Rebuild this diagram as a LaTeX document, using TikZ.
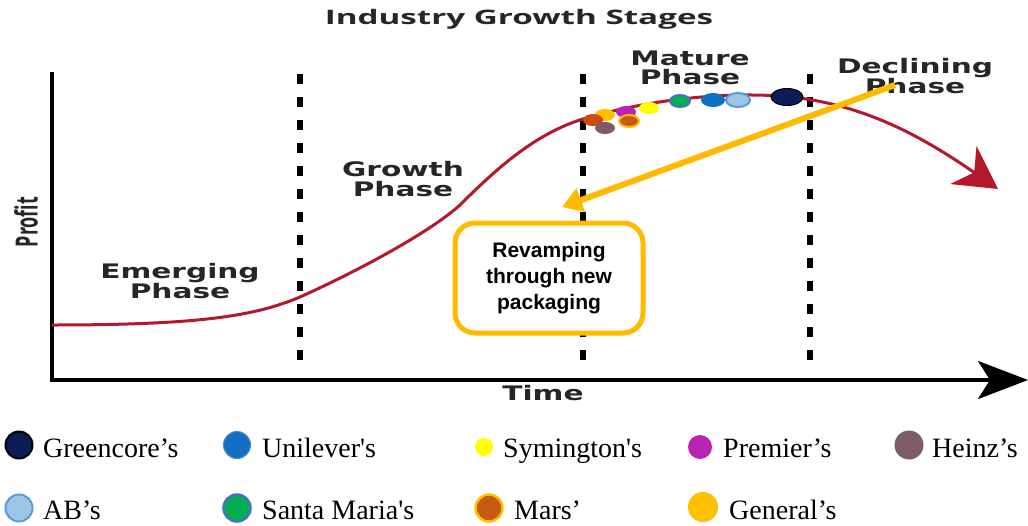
\documentclass[tikz,border=0pt]{standalone}
\usepackage{fontspec}
\setmainfont{Liberation Serif}
\newfontfamily\phasefont{DejaVu Sans}
\newfontfamily\titlefont{Open Sans}
\newfontfamily\boxfont{Liberation Sans}
\usetikzlibrary{arrows.meta,shapes.geometric}

\definecolor{curvered}{HTML}{B3192B}
\definecolor{amber}{HTML}{FFBA00}
\definecolor{gcnavy}{HTML}{0B1D55}
\definecolor{ulblue}{HTML}{1270C2}
\definecolor{abblue}{HTML}{9DC3E6}
\definecolor{abring}{HTML}{5B9BD5}
\definecolor{smgreen}{HTML}{00B050}
\definecolor{smring}{HTML}{4472C4}
\definecolor{symyellow}{HTML}{FFFF00}
\definecolor{prmagenta}{HTML}{BA22B4}
\definecolor{hzmauve}{HTML}{7D5B67}
\definecolor{mrbrown}{HTML}{C55A11}
\definecolor{gnorange}{HTML}{FFC000}

\tikzset{
  phase/.style={font=\phasefont\bfseries\fontsize{20}{19.5}\selectfont,
    text=black!85, align=center, xscale=1.48},
  mark dot/.style={ellipse, inner sep=0pt, minimum width=20pt, minimum height=12pt},
  key/.style={circle, inner sep=0pt, minimum size=27pt},
  keytext/.style={anchor=base west, inner sep=0pt, font=\fontsize{28}{30}\selectfont},
}

\begin{document}
\begin{tikzpicture}[x=1pt,y=-1pt]
  \useasboundingbox (0,0) rectangle (1028,525);

  % title and axis names
  \node (title) [font=\titlefont\bfseries\fontsize{20}{20}\selectfont,
    text=black!85, xscale=1.66] at (519,19) {Industry Growth Stages};
  \node (profit) [font=\titlefont\bfseries\fontsize{18}{18}\selectfont,
    text=black!85, xscale=1.7, rotate=90] at (26,222) {Profit};
  \node (time) [phase] at (543,393) {Time};

  % stage borders
  \begin{scope}[line width=6pt, dash pattern=on 10pt off 13pt]
    \draw (300,74) -- (300,370);
    \draw (583,74) -- (583,370);
    \draw (810,74) -- (810,370);
  \end{scope}

  % axes
  \draw[line width=3.5pt, line join=miter,
    -{Stealth[length=50pt,width=38pt,inset=12pt]}]
    (52,72) -- (52,380) -- (1028,380);

  % profit curve
  \draw[curvered, line width=3pt,
    -{Stealth[length=42pt,width=46pt,inset=13pt]}]
    (52,325) .. controls (200,325) and (255,316) .. (300,297)
    .. controls (360,270) and (430,232) .. (460,205)
    .. controls (500,165) and (540,130) .. (590,117)
    .. controls (650,100) and (720,92) .. (780,96)
    .. controls (860,102) and (920,135) .. (998,189);

  \node (emerging) [phase] at (180,281) {Emerging\\Phase};
  \node (growth) [phase] at (403,179) {Growth\\Phase};
  \node (mature) [phase] at (690,68) {Mature\\Phase};
  \node (declining) [phase] at (915,76) {Declining\\Phase};

  % companies on the curve
  \node (1) [mark dot, fill=gnorange] at (605,115) {};
  \node (2) [mark dot, fill=mrbrown!85!red] at (593,120) {};
  \node (3) [mark dot, fill=hzmauve] at (605,128) {};
  \node (4) [mark dot, fill=prmagenta] at (626,112) {};
  \node (5) [mark dot, fill=mrbrown, draw=gnorange, line width=2pt] at (629,121) {};
  \node (6) [mark dot, fill=symyellow] at (649,108) {};
  \node (7) [mark dot, fill=smgreen, draw=smring, line width=2pt] at (680,101) {};
  \node (8) [mark dot, fill=ulblue, minimum width=24pt, minimum height=14pt] at (713,100) {};
  \node (9) [mark dot, fill=abblue, draw=abring, line width=2pt,
    minimum width=24pt, minimum height=14pt] at (738,100) {};
  \node (10) [mark dot, fill=gcnavy, draw=black, line width=1pt,
    minimum width=32pt, minimum height=17pt] at (787,97) {};

  % revamping note
  \node (revamp) [draw=amber, line width=5pt, rounded corners=20pt, fill=white,
    minimum width=188pt, minimum height=110pt, align=center,
    font=\boxfont\bfseries\fontsize{21}{26}\selectfont] at (549,278)
    {Revamping\\through new\\packaging};
  \coordinate (revtail) at (895,85);
  \coordinate (revtip) at (562,207);
  \draw[amber, line width=6pt, -{Triangle[length=20pt,width=24pt]}] (revtail) -- (revtip);

  % legend
  \node (gc) [key, fill=gcnavy, draw=black, line width=2pt] at (19,445) {};
  \node (gct) [keytext] at (43,457) {Greencore’s};
  \node (ul) [key, fill=ulblue, draw=ulblue!80, line width=1pt] at (237,445) {};
  \node (ult) [keytext] at (262,457) {Unilever\textquotesingle s};
  \node (sy) [key, fill=symyellow, minimum size=18pt] at (484,447) {};
  \node (syt) [keytext] at (503,457) {Symington\textquotesingle s};
  \node (pr) [key, fill=prmagenta, minimum size=24pt] at (700,447) {};
  \node (prt) [keytext] at (723,457) {Premier’s};
  \node (hz) [key, fill=hzmauve, minimum size=29pt] at (909,445) {};
  \node (hzt) [keytext] at (932,457) {Heinz’s};

  \node (ab) [key, fill=abblue, draw=abring, line width=2pt] at (19,508) {};
  \node (abt) [keytext] at (43,519) {AB’s};
  \node (sm) [key, fill=smgreen, draw=smring, line width=2.5pt] at (237,508) {};
  \node (smt) [keytext] at (262,519) {Santa Maria\textquotesingle s};
  \node (mr) [key, fill=mrbrown, draw=gnorange, line width=2.5pt] at (489,508) {};
  \node (mrt) [keytext] at (514,519) {Mars’};
  \node (gn) [key, fill=gnorange, minimum size=30pt] at (703,507) {};
  \node (gnt) [keytext] at (729,519) {General’s};
\end{tikzpicture}
\end{document}
